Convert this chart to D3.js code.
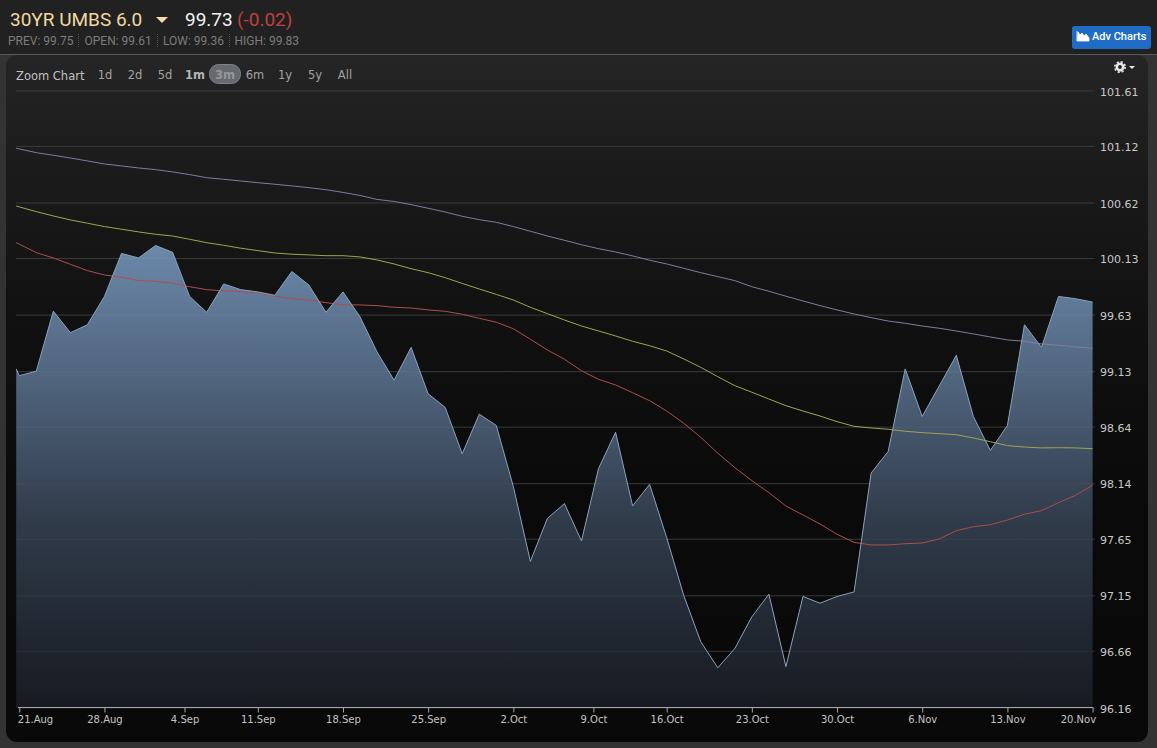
<!DOCTYPE html>
<html><head><meta charset="utf-8">
<script src="https://cdn.jsdelivr.net/npm/d3@7/dist/d3.min.js"></script>
<style>html,body{margin:0;padding:0;background:#333;overflow:hidden}svg{display:block}</style>
</head><body><svg id="c" width="1157" height="748"></svg>
<script>
// session index of each sample (first sample is a partial session just before 21 Aug)
const sessions = [-0.18,0,1,2,3,4,5,6,7,8,9,10,11,12,13,14,15,16,17,18,19,20,21,22,23,24,25,26,27,28,29,30,31,32,33,34,35,36,37,38,39,40,41,42,43,44,45,46,47,48,49,50,51,52,53,54,55,56,57,58,59,60,61,62,63];
const price = [99.15,99.09,99.13,99.66,99.47,99.54,99.79,100.17,100.13,100.24,100.18,99.79,99.65,99.90,99.85,99.83,99.80,100.01,99.89,99.65,99.83,99.61,99.30,99.05,99.34,98.93,98.81,98.40,98.75,98.65,98.11,97.45,97.83,97.96,97.63,98.27,98.59,97.94,98.13,97.66,97.15,96.74,96.51,96.68,96.96,97.16,96.52,97.14,97.08,97.14,97.18,98.23,98.42,99.15,98.73,99.00,99.27,98.73,98.43,98.65,99.54,99.34,99.79,99.77,99.74];
const maRed = [100.265,100.252,100.177,100.130,100.074,100.018,99.980,99.960,99.930,99.924,99.907,99.876,99.850,99.839,99.832,99.821,99.794,99.770,99.759,99.735,99.717,99.715,99.709,99.694,99.688,99.671,99.659,99.633,99.597,99.562,99.505,99.412,99.317,99.235,99.134,99.058,99.008,98.940,98.869,98.778,98.670,98.546,98.405,98.278,98.163,98.057,97.939,97.860,97.780,97.689,97.618,97.595,97.595,97.606,97.612,97.648,97.721,97.756,97.774,97.815,97.866,97.898,97.968,98.034,98.122];
const maGreen = [100.589,100.581,100.539,100.501,100.466,100.437,100.407,100.384,100.360,100.339,100.324,100.295,100.265,100.242,100.216,100.195,100.174,100.163,100.157,100.150,100.150,100.139,100.112,100.077,100.035,100.000,99.956,99.905,99.856,99.808,99.759,99.694,99.638,99.582,99.529,99.485,99.441,99.394,99.355,99.308,99.238,99.164,99.081,99.002,98.944,98.884,98.825,98.778,98.734,98.684,98.643,98.628,98.617,98.599,98.587,98.578,98.569,98.540,98.507,98.472,98.460,98.452,98.454,98.452,98.445];
const maPurple = [101.099,101.093,101.060,101.037,101.013,100.987,100.960,100.943,100.925,100.910,100.890,100.866,100.839,100.825,100.810,100.795,100.781,100.766,100.751,100.733,100.709,100.682,100.647,100.629,100.601,100.569,100.536,100.498,100.468,100.445,100.407,100.366,100.324,100.286,100.247,100.212,100.183,100.148,100.110,100.077,100.039,100.000,99.965,99.930,99.876,99.836,99.792,99.750,99.709,99.671,99.635,99.603,99.573,99.553,99.529,99.509,99.485,99.459,99.432,99.406,99.394,99.370,99.359,99.344,99.332];
const yTicks = [96.16,96.66,97.15,97.65,98.14,98.64,99.13,99.63,100.13,100.62,101.12,101.61];
const xTickLabels = ["21.Aug","28.Aug","4.Sep","11.Sep","18.Sep","25.Sep","2.Oct","9.Oct","16.Oct","23.Oct","30.Oct","6.Nov","13.Nov","20.Nov"];
const xTickSessions = [0,5,9.7,14,19,24,29,33.7,38,43,48,53,58,63];
const ranges = ["1d","2d","5d","1m","3m","6m","1y","5y","All"];
const stats = ["PREV: 99.75","OPEN: 99.61","LOW: 99.36","HIGH: 99.83"];

const svg = d3.select("#c");
const defs = svg.append("defs");
const pg = defs.append("linearGradient").attr("id","panel").attr("x1",0).attr("x2",0).attr("y1",0).attr("y2",1);
[[0,"#252525"],[0.18,"#1a1a1a"],[0.38,"#111111"],[0.65,"#0a0a0a"],[1,"#090909"]].forEach(s=>pg.append("stop").attr("offset",s[0]).attr("stop-color",s[1]));
const ag = defs.append("linearGradient").attr("id","area").attr("gradientUnits","userSpaceOnUse").attr("x1",0).attr("x2",0).attr("y1",245).attr("y2",707);
[[0,"#6b88aa"],[0.3,"#4f637c"],[0.6,"#303b4a"],[1,"#171a21"]].forEach(s=>ag.append("stop").attr("offset",s[0]).attr("stop-color",s[1]));

// page chrome
svg.append("rect").attr("width",1157).attr("height",748).attr("fill","#333333");
svg.append("rect").attr("width",1157).attr("height",54).attr("fill","#212121");
svg.append("rect").attr("y",54).attr("width",1157).attr("height",1).attr("fill","#5a5a5a");
svg.append("rect").attr("x",6).attr("y",55).attr("width",1142).attr("height",687).attr("rx",11).attr("fill","url(#panel)");

const x = d3.scaleLinear().domain([-0.18,63]).range([16.2,1092.6]);
const y = d3.scaleLinear().domain([96.16,101.61]).range([707.4,90.4]);

// grid
const gridG = svg.append("g").attr("transform","translate(16,0)")
  .call(d3.axisRight(y).tickValues(yTicks).tickSize(1079).tickFormat(""));
gridG.select(".domain").remove();
gridG.selectAll("line").attr("stroke","#323232").attr("stroke-width",1);

// area + lines
const idx = d3.range(price.length);
svg.append("path").attr("fill","url(#area)")
  .attr("d",d3.area().x(i=>x(sessions[i])).y0(y(96.16)).y1(i=>y(price[i]))(idx));
// grid faintly shows through the area
const gridOver = svg.append("g").attr("transform","translate(16,0)")
  .call(d3.axisRight(y).tickValues(yTicks.slice(1)).tickSize(1077).tickFormat(""));
gridOver.select(".domain").remove();
gridOver.selectAll("line").attr("stroke","#ffffff").attr("stroke-opacity",0.05);

const line = arr => d3.line().x(i=>x(sessions[i])).y(i=>y(arr[i]))(idx);
[[maPurple,"#857a9c"],[maGreen,"#9ea652"],[maRed,"#ab4f4c"]].forEach(s=>
  svg.append("path").attr("fill","none").attr("stroke",s[1]).attr("stroke-width",1).attr("d",line(s[0])));
svg.append("path").attr("fill","none").attr("stroke","#8aa3bd").attr("stroke-width",1).attr("d",line(price));

// x axis
const xa = svg.append("g").attr("transform","translate(0,707.5)")
  .call(d3.axisBottom(x).tickValues(xTickSessions).tickSize(5).tickPadding(3).tickFormat((d,i)=>xTickLabels[i]));
xa.select(".domain").attr("stroke","#a8a8a8").attr("d","M18,0H1093");
xa.selectAll("line").attr("stroke","#a8a8a8");
xa.selectAll("text").attr("fill","#c4c4c4").attr("font-family","DejaVu Sans").attr("font-size",10).attr("dx",0);
xa.selectAll("text").filter((d,i)=>i===0).attr("text-anchor","start").attr("dx",-2);
xa.selectAll("text").filter((d,i)=>i===xTickLabels.length-1).attr("text-anchor","end").attr("dx",3);

// y axis labels
const ya = svg.append("g").attr("transform","translate(1092,0)")
  .call(d3.axisRight(y).tickValues(yTicks).tickSize(0).tickPadding(8).tickFormat(d3.format(".2f")));
ya.select(".domain").remove();
ya.selectAll("text").attr("fill","#c8c8c8").attr("font-family","DejaVu Sans").attr("font-size",11).attr("dy","0.42em");

// header
const F = "Roboto";
svg.append("text").attr("x",10).attr("y",26).attr("font-family",F).attr("font-size",19).attr("fill","#f0d9a0").text("30YR UMBS 6.0");
svg.append("path").attr("d",d3.line()([[156,17],[168,17],[162,23]])+"Z").attr("fill","#f5dfa8");
svg.append("text").attr("x",185).attr("y",26).attr("font-family",F).attr("font-size",19).attr("fill","#f2f2f2").text("99.73");
svg.append("text").attr("x",237).attr("y",26).attr("font-family",F).attr("font-size",19).attr("fill","#c0403f").text("(-0.02)");
const statX = [8,84.5,163,234.5];
stats.forEach((t,i)=>svg.append("text").attr("x",statX[i]).attr("y",45).attr("font-family",F).attr("font-size",12).attr("fill","#7c7c7c").text(t));
[78.5,157.5,229.5].forEach(v=>svg.append("line").attr("x1",v).attr("x2",v).attr("y1",34).attr("y2",48).attr("stroke","#555").attr("stroke-dasharray","1,1"));

// button
svg.append("rect").attr("x",1072).attr("y",26).attr("width",79).attr("height",23).attr("rx",3).attr("fill","#1f6cc4");
svg.append("path").attr("d","M1077,31V41H1089V38L1086,34L1084,36L1082,33L1080,35L1078,32V40").attr("fill","#fff").attr("stroke","#fff").attr("stroke-width",0.8);
svg.append("text").attr("x",1092).attr("y",40).attr("font-family",F).attr("font-size",11).attr("font-weight",500).attr("fill","#fff").text("Adv Charts");

// range selector
svg.append("text").attr("x",16).attr("y",80).attr("font-family","DejaVu Sans").attr("font-size",11.5).attr("fill","#c2c2c2").text("Zoom Chart");
svg.append("rect").attr("x",209.5).attr("y",64.5).attr("width",31).attr("height",19).attr("rx",9).attr("fill","#666a6e").attr("stroke","#7d8186");
const rangeX = [105,135,165,195,225,255,285,315,345];
ranges.forEach((t,i)=>svg.append("text").attr("x",rangeX[i]).attr("y",79).attr("text-anchor","middle")
  .attr("font-family","DejaVu Sans").attr("font-size",11.5)
  .attr("font-weight",t==="1m"||t==="3m"?"bold":"normal")
  .attr("fill",t==="1m"?"#b4b4b4":t==="3m"?"#94979b":"#a2a2a2").text(t));

// gear
svg.append("circle").attr("cx",1120).attr("cy",67).attr("r",3.2).attr("fill","none").attr("stroke","#e6e6e6").attr("stroke-width",2.6);
svg.append("circle").attr("cx",1120).attr("cy",67).attr("r",5.2).attr("fill","none").attr("stroke","#e6e6e6").attr("stroke-width",1.6).attr("stroke-dasharray","2.1,2");
svg.append("path").attr("d","M1129,66h6l-3,3Z").attr("fill","#e6e6e6");
</script></body></html>
